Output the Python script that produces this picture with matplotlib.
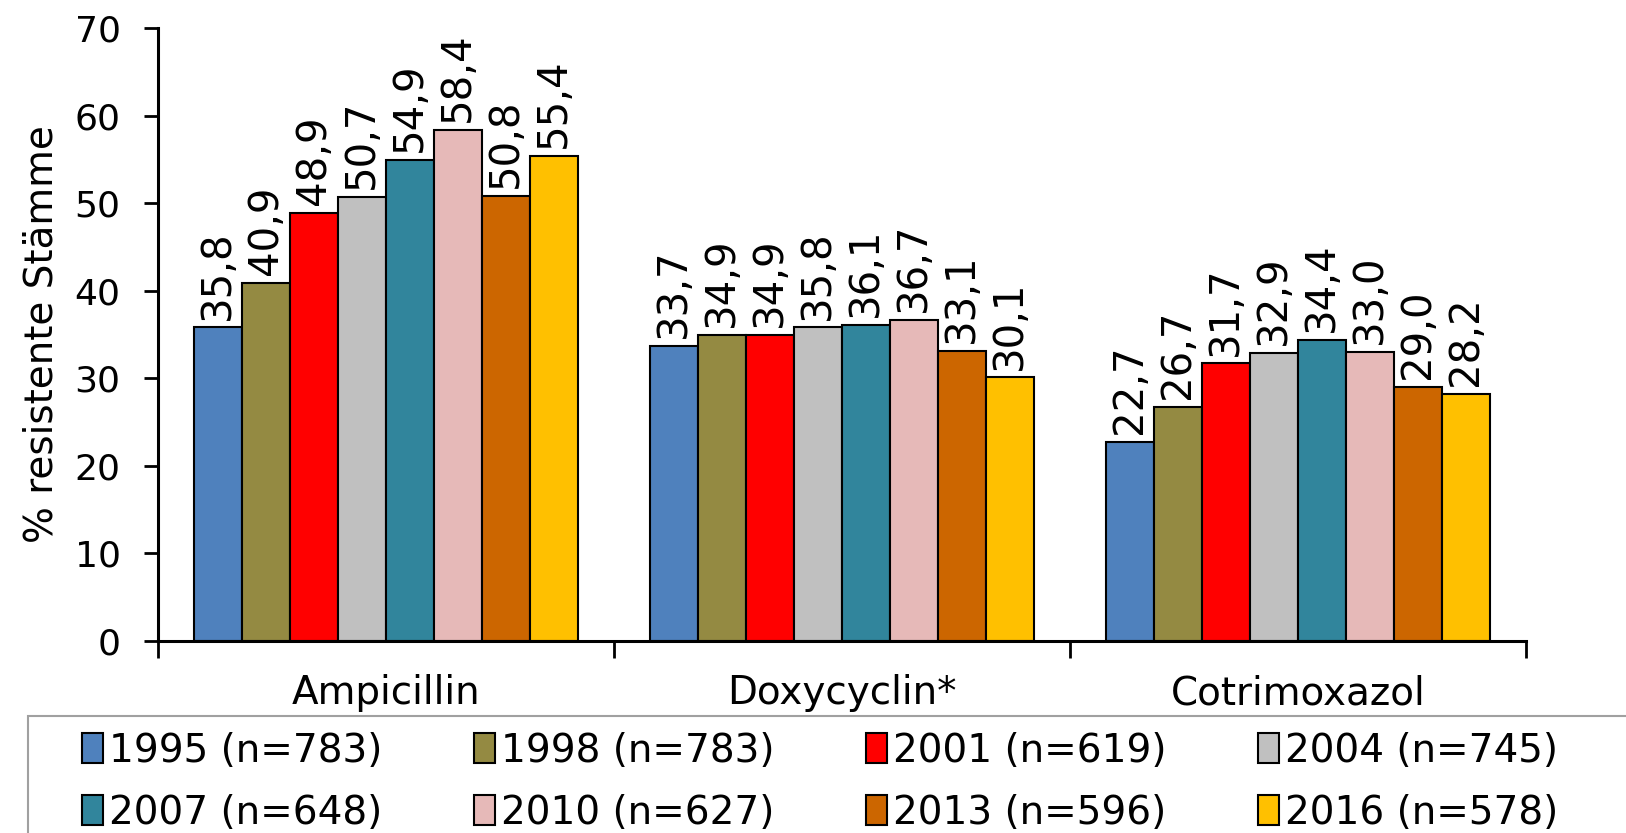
import matplotlib
matplotlib.use('Agg')
import matplotlib.pyplot as plt
from matplotlib.patches import Rectangle, Patch
import numpy as np

categories = ['Ampicillin', 'Doxycyclin*', 'Cotrimoxazol']
years = ['1995 (n=783)', '1998 (n=783)', '2001 (n=619)', '2004 (n=745)',
         '2007 (n=648)', '2010 (n=627)', '2013 (n=596)', '2016 (n=578)']
values = [
    [35.8, 33.7, 22.7],
    [40.9, 34.9, 26.7],
    [48.9, 34.9, 31.7],
    [50.7, 35.8, 32.9],
    [54.9, 36.1, 34.4],
    [58.4, 36.7, 33.0],
    [50.8, 33.1, 29.0],
    [55.4, 30.1, 28.2],
]
colors = ['#4F81BD', '#948A42', '#FF0000', '#C0C0C0',
          '#31859C', '#E6B9B8', '#CC6600', '#FFC000']

plt.rcParams['font.family'] = ['DejaVu Sans']
fs = 28

fig = plt.figure(figsize=(16.26, 8.33), dpi=100)
ax = fig.add_axes([158/1626, 1 - 641/833, (1526 - 158)/1626, (641 - 28)/833])

x = np.arange(len(categories))
width = 0.105
n = len(years)
for i, (yr, vals) in enumerate(zip(years, values)):
    pos = x + (i - (n - 1) / 2) * width
    ax.bar(pos, vals, width=width, color=colors[i], edgecolor='black',
           linewidth=1.5, label=yr, zorder=2)
    for p, v in zip(pos, vals):
        ax.text(p, v + 0.9, f'{v:.1f}'.replace('.', ','), rotation=90,
                ha='center', va='bottom', fontsize=29)

ax.set_xlim(-0.5, 2.5)
ax.set_ylim(0, 70)
ax.set_yticks(range(0, 71, 10))
ax.set_xticks([-0.5, 0.5, 1.5, 2.5])
ax.set_xticklabels([])
ax.set_xticks(x, minor=True)
ax.set_xticklabels(categories, minor=True, fontsize=fs)
ax.tick_params(axis='x', which='minor', length=0, pad=24)
ax.tick_params(axis='x', which='major', length=12, width=2, direction='out')
ax.tick_params(axis='y', length=10, width=2, direction='out', labelsize=26, pad=17)
for s in ['top', 'right']:
    ax.spines[s].set_visible(False)
for s in ['left', 'bottom']:
    ax.spines[s].set_linewidth(2.2)
ax.set_ylabel('% resistente Stämme', fontsize=fs, labelpad=10)

# legend frame running off the right and bottom edges
fig.patches.append(Rectangle((28/1626, -0.1), 1.1, 0.1 + (833 - 716)/833,
                             transform=fig.transFigure, facecolor='white',
                             edgecolor='#A0A0A0', linewidth=1.5))
handles = [Patch(facecolor=c, edgecolor='black', linewidth=1.5) for c in colors]
order = [0, 4, 1, 5, 2, 6, 3, 7]
fig.legend([handles[k] for k in order], [years[k] for k in order],
           loc='upper left', bbox_to_anchor=(66/1626, 1 - 716/833),
           ncol=4, frameon=False, fontsize=fs, handlelength=0.55, handleheight=0.8,
           handletextpad=0.15, columnspacing=2.35, labelspacing=0.62, borderaxespad=0)

fig.savefig('out.png', dpi=100)
